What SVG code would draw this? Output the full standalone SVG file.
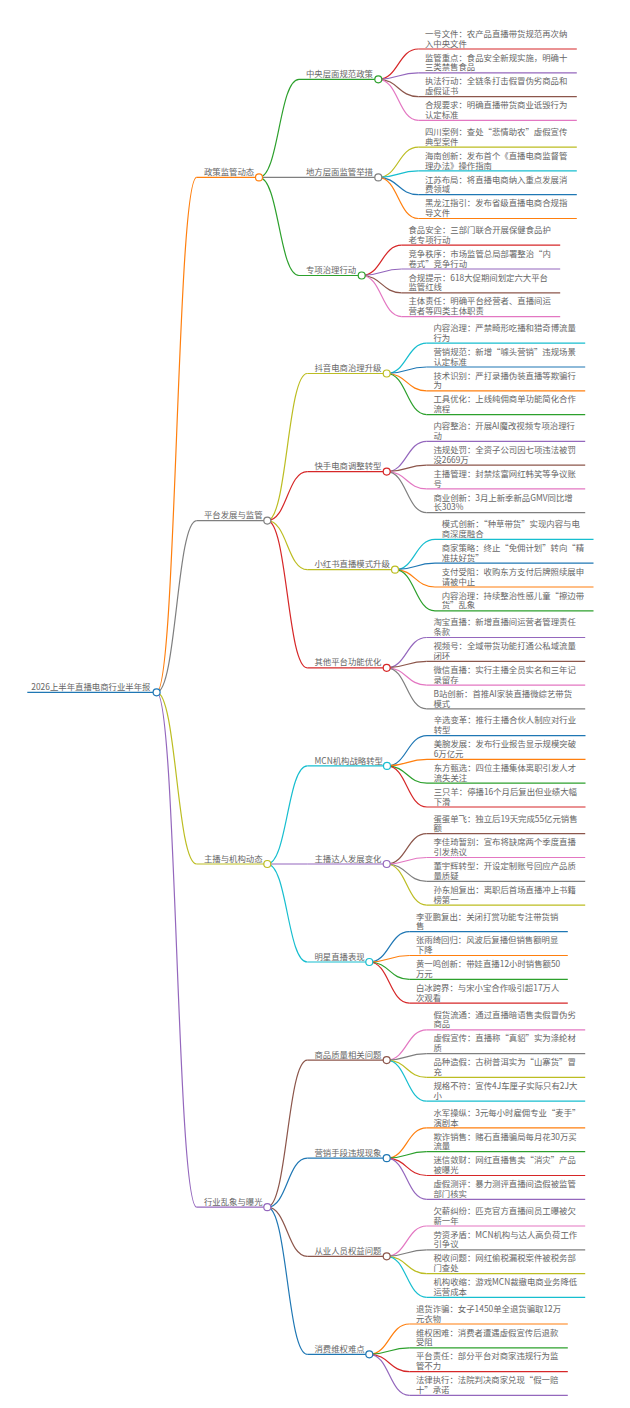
<svg xmlns="http://www.w3.org/2000/svg" width="630" height="1408" viewBox="0 0 630 1408">
<style>
.t{font-family:"Noto Sans CJK SC","Noto Sans",sans-serif;font-size:8.4px;fill:#666}
.l{fill:none;stroke-width:1.2}
.c{fill:#fff;stroke-width:1.2}
.s0{stroke:#1f77b4}.s1{stroke:#ff7f0e}.s2{stroke:#2ca02c}.s3{stroke:#d62728}.s4{stroke:#9467bd}
.s5{stroke:#8c564b}.s6{stroke:#e377c2}.s7{stroke:#7f7f7f}.s8{stroke:#bcbd22}.s9{stroke:#17becf}
</style>
<rect width="630" height="1408" fill="#fff"/>
<g id="connectors">
<path class="l s1" d="M156.6,692.3C176.6,692.3 176.6,177.4 196.7,177.4"/>
<path class="l s7" d="M156.6,692.3C176.6,692.3 176.6,520.6 196.7,520.6"/>
<path class="l s8" d="M156.6,692.3C176.6,692.3 176.6,864 196.7,864"/>
<path class="l s4" d="M156.6,692.3C176.6,692.3 176.6,1207.2 196.7,1207.2"/>
<path class="l s2" d="M259,177.4C279,177.4 279,79.3 299,79.3"/>
<path class="l s7" d="M259,177.4H299"/>
<path class="l s2" d="M259,177.4C279,177.4 279,275.5 299,275.5"/>
<path class="l s8" d="M267.3,520.6C287.3,520.6 287.3,373.5 307.3,373.5"/>
<path class="l s3" d="M267.3,520.6C287.3,520.6 287.3,471.6 307.3,471.6"/>
<path class="l s8" d="M267.3,520.6C287.3,520.6 287.3,569.7 307.3,569.7"/>
<path class="l s3" d="M267.3,520.6C287.3,520.6 287.3,667.8 307.3,667.8"/>
<path class="l s9" d="M267.3,864C287.3,864 287.3,765.9 307.3,765.9"/>
<path class="l s4" d="M267.3,864H307.3"/>
<path class="l s9" d="M267.3,864C287.3,864 287.3,962 307.3,962"/>
<path class="l s5" d="M267.3,1207.2C287.3,1207.2 287.3,1060.1 307.3,1060.1"/>
<path class="l s0" d="M267.3,1207.2C287.3,1207.2 287.3,1158.2 307.3,1158.2"/>
<path class="l s5" d="M267.3,1207.2C287.3,1207.2 287.3,1256.3 307.3,1256.3"/>
<path class="l s0" d="M267.3,1207.2C287.3,1207.2 287.3,1354.3 307.3,1354.3"/>
<path class="l s3" d="M378.3,79.3C398.3,79.3 398.3,49 418.3,49"/>
<path class="l s4" d="M378.3,79.3C398.3,79.3 398.3,72.8 418.3,72.8"/>
<path class="l s5" d="M378.3,79.3C398.3,79.3 398.3,96.6 418.3,96.6"/>
<path class="l s6" d="M378.3,79.3C398.3,79.3 398.3,120.4 418.3,120.4"/>
<path class="l s8" d="M378.3,177.4C398.3,177.4 398.3,147.1 418.3,147.1"/>
<path class="l s9" d="M378.3,177.4C398.3,177.4 398.3,170.9 418.3,170.9"/>
<path class="l s0" d="M378.3,177.4C398.3,177.4 398.3,194.7 418.3,194.7"/>
<path class="l s1" d="M378.3,177.4C398.3,177.4 398.3,218.5 418.3,218.5"/>
<path class="l s3" d="M361.7,275.5C381.7,275.5 381.7,245.2 401.7,245.2"/>
<path class="l s4" d="M361.7,275.5C381.7,275.5 381.7,269 401.7,269"/>
<path class="l s5" d="M361.7,275.5C381.7,275.5 381.7,292.8 401.7,292.8"/>
<path class="l s6" d="M361.7,275.5C381.7,275.5 381.7,316.6 401.7,316.6"/>
<path class="l s9" d="M386.7,373.5C406.7,373.5 406.7,343.2 426.7,343.2"/>
<path class="l s0" d="M386.7,373.5C406.7,373.5 406.7,367 426.7,367"/>
<path class="l s1" d="M386.7,373.5C406.7,373.5 406.7,390.8 426.7,390.8"/>
<path class="l s2" d="M386.7,373.5C406.7,373.5 406.7,414.6 426.7,414.6"/>
<path class="l s4" d="M386.7,471.6C406.7,471.6 406.7,441.3 426.7,441.3"/>
<path class="l s5" d="M386.7,471.6C406.7,471.6 406.7,465.1 426.7,465.1"/>
<path class="l s6" d="M386.7,471.6C406.7,471.6 406.7,488.9 426.7,488.9"/>
<path class="l s7" d="M386.7,471.6C406.7,471.6 406.7,512.7 426.7,512.7"/>
<path class="l s9" d="M395,569.7C415,569.7 415,539.4 435,539.4"/>
<path class="l s0" d="M395,569.7C415,569.7 415,563.2 435,563.2"/>
<path class="l s1" d="M395,569.7C415,569.7 415,587 435,587"/>
<path class="l s2" d="M395,569.7C415,569.7 415,610.8 435,610.8"/>
<path class="l s4" d="M386.7,667.8C406.7,667.8 406.7,637.5 426.7,637.5"/>
<path class="l s5" d="M386.7,667.8C406.7,667.8 406.7,661.3 426.7,661.3"/>
<path class="l s6" d="M386.7,667.8C406.7,667.8 406.7,685.1 426.7,685.1"/>
<path class="l s7" d="M386.7,667.8C406.7,667.8 406.7,708.9 426.7,708.9"/>
<path class="l s0" d="M387,765.9C407,765.9 407,735.6 427,735.6"/>
<path class="l s1" d="M387,765.9C407,765.9 407,759.4 427,759.4"/>
<path class="l s2" d="M387,765.9C407,765.9 407,783.2 427,783.2"/>
<path class="l s3" d="M387,765.9C407,765.9 407,807 427,807"/>
<path class="l s5" d="M386.7,864C406.7,864 406.7,833.7 426.7,833.7"/>
<path class="l s6" d="M386.7,864C406.7,864 406.7,857.5 426.7,857.5"/>
<path class="l s7" d="M386.7,864C406.7,864 406.7,881.3 426.7,881.3"/>
<path class="l s8" d="M386.7,864C406.7,864 406.7,905.1 426.7,905.1"/>
<path class="l s0" d="M369.3,962C389.3,962 389.3,931.7 409.3,931.7"/>
<path class="l s1" d="M369.3,962C389.3,962 389.3,955.5 409.3,955.5"/>
<path class="l s2" d="M369.3,962C389.3,962 389.3,979.3 409.3,979.3"/>
<path class="l s3" d="M369.3,962C389.3,962 389.3,1003.1 409.3,1003.1"/>
<path class="l s6" d="M386.7,1060.1C406.7,1060.1 406.7,1029.8 426.7,1029.8"/>
<path class="l s7" d="M386.7,1060.1C406.7,1060.1 406.7,1053.6 426.7,1053.6"/>
<path class="l s8" d="M386.7,1060.1C406.7,1060.1 406.7,1077.4 426.7,1077.4"/>
<path class="l s9" d="M386.7,1060.1C406.7,1060.1 406.7,1101.2 426.7,1101.2"/>
<path class="l s1" d="M386.7,1158.2C406.7,1158.2 406.7,1127.9 426.7,1127.9"/>
<path class="l s2" d="M386.7,1158.2C406.7,1158.2 406.7,1151.7 426.7,1151.7"/>
<path class="l s3" d="M386.7,1158.2C406.7,1158.2 406.7,1175.5 426.7,1175.5"/>
<path class="l s4" d="M386.7,1158.2C406.7,1158.2 406.7,1199.3 426.7,1199.3"/>
<path class="l s6" d="M386.7,1256.3C406.7,1256.3 406.7,1226 426.7,1226"/>
<path class="l s7" d="M386.7,1256.3C406.7,1256.3 406.7,1249.8 426.7,1249.8"/>
<path class="l s8" d="M386.7,1256.3C406.7,1256.3 406.7,1273.6 426.7,1273.6"/>
<path class="l s9" d="M386.7,1256.3C406.7,1256.3 406.7,1297.4 426.7,1297.4"/>
<path class="l s1" d="M369.3,1354.3C389.3,1354.3 389.3,1324 409.3,1324"/>
<path class="l s2" d="M369.3,1354.3C389.3,1354.3 389.3,1347.8 409.3,1347.8"/>
<path class="l s3" d="M369.3,1354.3C389.3,1354.3 389.3,1371.6 409.3,1371.6"/>
<path class="l s4" d="M369.3,1354.3C389.3,1354.3 389.3,1395.4 409.3,1395.4"/>
</g>

<g id="n-root"><path class="l s0" d="M27.3,692.3H156.6"/><text class="t" x="31.3" y="689.9">2026上半年直播电商行业半年报</text><circle class="c s0" cx="156.6" cy="692.3" r="3.5"/></g>

<g id="n-policy"><path class="l s1" d="M196.7,177.4H259"/><text class="t" x="204" y="175">政策监管动态</text><circle class="c s1" cx="259" cy="177.4" r="3.5"/></g>
<g id="n-platform"><path class="l s7" d="M196.7,520.6H267.3"/><text class="t" x="204" y="518.2">平台发展与监管</text><circle class="c s7" cx="267.3" cy="520.6" r="3.5"/></g>
<g id="n-anchor"><path class="l s8" d="M196.7,864H267.3"/><text class="t" x="204" y="861.6">主播与机构动态</text><circle class="c s8" cx="267.3" cy="864" r="3.5"/></g>
<g id="n-chaos"><path class="l s4" d="M196.7,1207.2H267.3"/><text class="t" x="204" y="1204.8">行业乱象与曝光</text><circle class="c s4" cx="267.3" cy="1207.2" r="3.5"/></g>

<g id="n-central"><path class="l s2" d="M299,79.3H378.3"/><text class="t" x="306" y="76.9">中央层面规范政策</text><circle class="c s2" cx="378.3" cy="79.3" r="3.5"/></g>
<g id="n-local"><path class="l s7" d="M299,177.4H378.3"/><text class="t" x="306" y="175">地方层面监管举措</text><circle class="c s7" cx="378.3" cy="177.4" r="3.5"/></g>
<g id="n-special"><path class="l s2" d="M299,275.5H361.7"/><text class="t" x="306" y="273.1">专项治理行动</text><circle class="c s2" cx="361.7" cy="275.5" r="3.5"/></g>
<g id="n-douyin"><path class="l s8" d="M307.3,373.5H386.7"/><text class="t" x="314.5" y="371.1">抖音电商治理升级</text><circle class="c s8" cx="386.7" cy="373.5" r="3.5"/></g>
<g id="n-kuaishou"><path class="l s3" d="M307.3,471.6H386.7"/><text class="t" x="314.5" y="469.2">快手电商调整转型</text><circle class="c s3" cx="386.7" cy="471.6" r="3.5"/></g>
<g id="n-xhs"><path class="l s8" d="M307.3,569.7H395"/><text class="t" x="314.5" y="567.3">小红书直播模式升级</text><circle class="c s8" cx="395" cy="569.7" r="3.5"/></g>
<g id="n-other"><path class="l s3" d="M307.3,667.8H386.7"/><text class="t" x="314.5" y="665.4">其他平台功能优化</text><circle class="c s3" cx="386.7" cy="667.8" r="3.5"/></g>
<g id="n-mcn"><path class="l s9" d="M307.3,765.9H387"/><text class="t" x="314.5" y="763.5">MCN机构战略转型</text><circle class="c s9" cx="387" cy="765.9" r="3.5"/></g>
<g id="n-talent"><path class="l s4" d="M307.3,864H386.7"/><text class="t" x="314.5" y="861.6">主播达人发展变化</text><circle class="c s4" cx="386.7" cy="864" r="3.5"/></g>
<g id="n-star"><path class="l s9" d="M307.3,962H369.3"/><text class="t" x="314.5" y="959.6">明星直播表现</text><circle class="c s9" cx="369.3" cy="962" r="3.5"/></g>
<g id="n-quality"><path class="l s5" d="M307.3,1060.1H386.7"/><text class="t" x="314.5" y="1057.7">商品质量相关问题</text><circle class="c s5" cx="386.7" cy="1060.1" r="3.5"/></g>
<g id="n-marketing"><path class="l s0" d="M307.3,1158.2H386.7"/><text class="t" x="314.5" y="1155.8">营销手段违规现象</text><circle class="c s0" cx="386.7" cy="1158.2" r="3.5"/></g>
<g id="n-workers"><path class="l s5" d="M307.3,1256.3H386.7"/><text class="t" x="314.5" y="1253.9">从业人员权益问题</text><circle class="c s5" cx="386.7" cy="1256.3" r="3.5"/></g>
<g id="n-consumer"><path class="l s0" d="M307.3,1354.3H369.3"/><text class="t" x="314.5" y="1351.9">消费维权难点</text><circle class="c s0" cx="369.3" cy="1354.3" r="3.5"/></g>

<g id="leaf-0-0"><path class="l s3" d="M418.3,49h158.5"/><text class="t" x="425" y="36.8">一号文件：农产品直播带货规范再次纳<tspan x="425" dy="9.8">入中央文件</tspan></text></g>
<g id="leaf-0-1"><path class="l s4" d="M418.3,72.8h158.5"/><text class="t" x="425" y="60.6">监管重点：食品安全新规实施，明确十<tspan x="425" dy="9.8">三类禁售食品</tspan></text></g>
<g id="leaf-0-2"><path class="l s5" d="M418.3,96.6h158.5"/><text class="t" x="425" y="84.4">执法行动：全链条打击假冒伪劣商品和<tspan x="425" dy="9.8">虚假证书</tspan></text></g>
<g id="leaf-0-3"><path class="l s6" d="M418.3,120.4h158.5"/><text class="t" x="425" y="108.2">合规要求：明确直播带货商业诋毁行为<tspan x="425" dy="9.8">认定标准</tspan></text></g>

<g id="leaf-1-0"><path class="l s8" d="M418.3,147.1h158.5"/><text class="t" x="425" y="134.9">四川案例：查处“悲情助农”虚假宣传<tspan x="425" dy="9.8">典型案件</tspan></text></g>
<g id="leaf-1-1"><path class="l s9" d="M418.3,170.9h158.5"/><text class="t" x="425" y="158.7">海南创新：发布首个《直播电商监督管<tspan x="425" dy="9.8">理办法》操作指南</tspan></text></g>
<g id="leaf-1-2"><path class="l s0" d="M418.3,194.7h158.5"/><text class="t" x="425" y="182.5">江苏布局：将直播电商纳入重点发展消<tspan x="425" dy="9.8">费领域</tspan></text></g>
<g id="leaf-1-3"><path class="l s1" d="M418.3,218.5h158.5"/><text class="t" x="425" y="206.3">黑龙江指引：发布省级直播电商合规指<tspan x="425" dy="9.8">导文件</tspan></text></g>

<g id="leaf-2-0"><path class="l s3" d="M401.7,245.2h158.5"/><text class="t" x="408.4" y="233">食品安全：三部门联合开展保健食品护<tspan x="408.4" dy="9.8">老专项行动</tspan></text></g>
<g id="leaf-2-1"><path class="l s4" d="M401.7,269h158.5"/><text class="t" x="408.4" y="256.8">竞争秩序：市场监管总局部署整治“内<tspan x="408.4" dy="9.8">卷式”竞争行动</tspan></text></g>
<g id="leaf-2-2"><path class="l s5" d="M401.7,292.8h158.5"/><text class="t" x="408.4" y="280.6">合规提示：618大促期间划定六大平台<tspan x="408.4" dy="9.8">监管红线</tspan></text></g>
<g id="leaf-2-3"><path class="l s6" d="M401.7,316.6h158.5"/><text class="t" x="408.4" y="304.4">主体责任：明确平台经营者、直播间运<tspan x="408.4" dy="9.8">营者等四类主体职责</tspan></text></g>

<g id="leaf-3-0"><path class="l s9" d="M426.7,343.2h158.5"/><text class="t" x="433.4" y="331">内容治理：严禁畸形吃播和猎奇博流量<tspan x="433.4" dy="9.8">行为</tspan></text></g>
<g id="leaf-3-1"><path class="l s0" d="M426.7,367h158.5"/><text class="t" x="433.4" y="354.8">营销规范：新增“噱头营销”违规场景<tspan x="433.4" dy="9.8">认定标准</tspan></text></g>
<g id="leaf-3-2"><path class="l s1" d="M426.7,390.8h158.5"/><text class="t" x="433.4" y="378.6">技术识别：严打录播伪装直播等欺骗行<tspan x="433.4" dy="9.8">为</tspan></text></g>
<g id="leaf-3-3"><path class="l s2" d="M426.7,414.6h158.5"/><text class="t" x="433.4" y="402.4">工具优化：上线纯佣商单功能简化合作<tspan x="433.4" dy="9.8">流程</tspan></text></g>

<g id="leaf-4-0"><path class="l s4" d="M426.7,441.3h158.5"/><text class="t" x="433.4" y="429.1">内容整治：开展AI魔改视频专项治理行<tspan x="433.4" dy="9.8">动</tspan></text></g>
<g id="leaf-4-1"><path class="l s5" d="M426.7,465.1h158.5"/><text class="t" x="433.4" y="452.9">违规处罚：全资子公司因七项违法被罚<tspan x="433.4" dy="9.8">没2669万</tspan></text></g>
<g id="leaf-4-2"><path class="l s6" d="M426.7,488.9h158.5"/><text class="t" x="433.4" y="476.7">主播管理：封禁炫富网红韩笑等争议账<tspan x="433.4" dy="9.8">号</tspan></text></g>
<g id="leaf-4-3"><path class="l s7" d="M426.7,512.7h158.5"/><text class="t" x="433.4" y="500.5">商业创新：3月上新季新品GMV同比增<tspan x="433.4" dy="9.8">长303%</tspan></text></g>

<g id="leaf-5-0"><path class="l s9" d="M435,539.4h158.5"/><text class="t" x="441.7" y="527.2">模式创新：“种草带货”实现内容与电<tspan x="441.7" dy="9.8">商深度融合</tspan></text></g>
<g id="leaf-5-1"><path class="l s0" d="M435,563.2h158.5"/><text class="t" x="441.7" y="551">商家策略：终止“免佣计划”转向“精<tspan x="441.7" dy="9.8">准扶好货”</tspan></text></g>
<g id="leaf-5-2"><path class="l s1" d="M435,587h158.5"/><text class="t" x="441.7" y="574.8">支付受阻：收购东方支付后牌照续展申<tspan x="441.7" dy="9.8">请被中止</tspan></text></g>
<g id="leaf-5-3"><path class="l s2" d="M435,610.8h158.5"/><text class="t" x="441.7" y="598.6">内容治理：持续整治性感儿童“擦边带<tspan x="441.7" dy="9.8">货”乱象</tspan></text></g>

<g id="leaf-6-0"><path class="l s4" d="M426.7,637.5h158.5"/><text class="t" x="433.4" y="625.3">淘宝直播：新增直播间运营者管理责任<tspan x="433.4" dy="9.8">条款</tspan></text></g>
<g id="leaf-6-1"><path class="l s5" d="M426.7,661.3h158.5"/><text class="t" x="433.4" y="649.1">视频号：全域带货功能打通公私域流量<tspan x="433.4" dy="9.8">闭环</tspan></text></g>
<g id="leaf-6-2"><path class="l s6" d="M426.7,685.1h158.5"/><text class="t" x="433.4" y="672.9">微信直播：实行主播全员实名和三年记<tspan x="433.4" dy="9.8">录留存</tspan></text></g>
<g id="leaf-6-3"><path class="l s7" d="M426.7,708.9h158.5"/><text class="t" x="433.4" y="696.7">B站创新：首推AI家装直播微综艺带货<tspan x="433.4" dy="9.8">模式</tspan></text></g>

<g id="leaf-7-0"><path class="l s0" d="M427,735.6h158.5"/><text class="t" x="433.7" y="723.4">辛选变革：推行主播合伙人制应对行业<tspan x="433.7" dy="9.8">转型</tspan></text></g>
<g id="leaf-7-1"><path class="l s1" d="M427,759.4h158.5"/><text class="t" x="433.7" y="747.2">美腕发展：发布行业报告显示规模突破<tspan x="433.7" dy="9.8">6万亿元</tspan></text></g>
<g id="leaf-7-2"><path class="l s2" d="M427,783.2h158.5"/><text class="t" x="433.7" y="771">东方甄选：四位主播集体离职引发人才<tspan x="433.7" dy="9.8">流失关注</tspan></text></g>
<g id="leaf-7-3"><path class="l s3" d="M427,807h158.5"/><text class="t" x="433.7" y="794.8">三只羊：停播16个月后复出但业绩大幅<tspan x="433.7" dy="9.8">下滑</tspan></text></g>

<g id="leaf-8-0"><path class="l s5" d="M426.7,833.7h158.5"/><text class="t" x="433.4" y="821.5">蛋蛋单飞：独立后19天完成55亿元销售<tspan x="433.4" dy="9.8">额</tspan></text></g>
<g id="leaf-8-1"><path class="l s6" d="M426.7,857.5h158.5"/><text class="t" x="433.4" y="845.3">李佳琦暂别：宣布将缺席两个季度直播<tspan x="433.4" dy="9.8">引发热议</tspan></text></g>
<g id="leaf-8-2"><path class="l s7" d="M426.7,881.3h158.5"/><text class="t" x="433.4" y="869.1">董宇辉转型：开设定制账号回应产品质<tspan x="433.4" dy="9.8">量质疑</tspan></text></g>
<g id="leaf-8-3"><path class="l s8" d="M426.7,905.1h158.5"/><text class="t" x="433.4" y="892.9">孙东旭复出：离职后首场直播冲上书籍<tspan x="433.4" dy="9.8">榜第一</tspan></text></g>

<g id="leaf-9-0"><path class="l s0" d="M409.3,931.7h158.5"/><text class="t" x="416" y="919.5">李亚鹏复出：关闭打赏功能专注带货销<tspan x="416" dy="9.8">售</tspan></text></g>
<g id="leaf-9-1"><path class="l s1" d="M409.3,955.5h158.5"/><text class="t" x="416" y="943.3">张雨绮回归：风波后复播但销售额明显<tspan x="416" dy="9.8">下降</tspan></text></g>
<g id="leaf-9-2"><path class="l s2" d="M409.3,979.3h158.5"/><text class="t" x="416" y="967.1">黄一鸣创新：带娃直播12小时销售额50<tspan x="416" dy="9.8">万元</tspan></text></g>
<g id="leaf-9-3"><path class="l s3" d="M409.3,1003.1h158.5"/><text class="t" x="416" y="990.9">白冰跨界：与宋小宝合作吸引超17万人<tspan x="416" dy="9.8">次观看</tspan></text></g>

<g id="leaf-10-0"><path class="l s6" d="M426.7,1029.8h158.5"/><text class="t" x="433.4" y="1017.6">假货流通：通过直播暗语售卖假冒伪劣<tspan x="433.4" dy="9.8">商品</tspan></text></g>
<g id="leaf-10-1"><path class="l s7" d="M426.7,1053.6h158.5"/><text class="t" x="433.4" y="1041.4">虚假宣传：直播称“真貂”实为涤纶材<tspan x="433.4" dy="9.8">质</tspan></text></g>
<g id="leaf-10-2"><path class="l s8" d="M426.7,1077.4h158.5"/><text class="t" x="433.4" y="1065.2">品种造假：古树普洱实为“山寨货”冒<tspan x="433.4" dy="9.8">充</tspan></text></g>
<g id="leaf-10-3"><path class="l s9" d="M426.7,1101.2h158.5"/><text class="t" x="433.4" y="1089">规格不符：宣传4J车厘子实际只有2J大<tspan x="433.4" dy="9.8">小</tspan></text></g>

<g id="leaf-11-0"><path class="l s1" d="M426.7,1127.9h158.5"/><text class="t" x="433.4" y="1115.7">水军操纵：3元每小时雇佣专业“麦手”<tspan x="433.4" dy="9.8">演剧本</tspan></text></g>
<g id="leaf-11-1"><path class="l s2" d="M426.7,1151.7h158.5"/><text class="t" x="433.4" y="1139.5">欺诈销售：赌石直播骗局每月花30万买<tspan x="433.4" dy="9.8">流量</tspan></text></g>
<g id="leaf-11-2"><path class="l s3" d="M426.7,1175.5h158.5"/><text class="t" x="433.4" y="1163.3">迷信敛财：网红直播售卖“消灾”产品<tspan x="433.4" dy="9.8">被曝光</tspan></text></g>
<g id="leaf-11-3"><path class="l s4" d="M426.7,1199.3h158.5"/><text class="t" x="433.4" y="1187.1">虚假测评：暴力测评直播间造假被监管<tspan x="433.4" dy="9.8">部门核实</tspan></text></g>

<g id="leaf-12-0"><path class="l s6" d="M426.7,1226h158.5"/><text class="t" x="433.4" y="1213.8">欠薪纠纷：匹克官方直播间员工曝被欠<tspan x="433.4" dy="9.8">薪一年</tspan></text></g>
<g id="leaf-12-1"><path class="l s7" d="M426.7,1249.8h158.5"/><text class="t" x="433.4" y="1237.6">劳资矛盾：MCN机构与达人高负荷工作<tspan x="433.4" dy="9.8">引争议</tspan></text></g>
<g id="leaf-12-2"><path class="l s8" d="M426.7,1273.6h158.5"/><text class="t" x="433.4" y="1261.4">税收问题：网红偷税漏税案件被税务部<tspan x="433.4" dy="9.8">门查处</tspan></text></g>
<g id="leaf-12-3"><path class="l s9" d="M426.7,1297.4h158.5"/><text class="t" x="433.4" y="1285.2">机构收缩：游戏MCN裁撤电商业务降低<tspan x="433.4" dy="9.8">运营成本</tspan></text></g>

<g id="leaf-13-0"><path class="l s1" d="M409.3,1324h158.5"/><text class="t" x="416" y="1311.8">退货诈骗：女子1450单全退货骗取12万<tspan x="416" dy="9.8">元衣物</tspan></text></g>
<g id="leaf-13-1"><path class="l s2" d="M409.3,1347.8h158.5"/><text class="t" x="416" y="1335.6">维权困难：消费者遭遇虚假宣传后退款<tspan x="416" dy="9.8">受阻</tspan></text></g>
<g id="leaf-13-2"><path class="l s3" d="M409.3,1371.6h158.5"/><text class="t" x="416" y="1359.4">平台责任：部分平台对商家违规行为监<tspan x="416" dy="9.8">管不力</tspan></text></g>
<g id="leaf-13-3"><path class="l s4" d="M409.3,1395.4h158.5"/><text class="t" x="416" y="1383.2">法律执行：法院判决商家兑现“假一赔<tspan x="416" dy="9.8">十”承诺</tspan></text></g>
</svg>
